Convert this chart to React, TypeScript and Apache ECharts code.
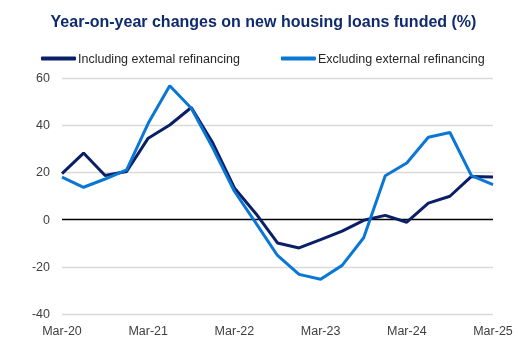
import React, { useEffect, useRef } from "react";
import * as echarts from "echarts";

const categories = [
  "Mar-20", "Jun-20", "Sep-20", "Dec-20",
  "Mar-21", "Jun-21", "Sep-21", "Dec-21",
  "Mar-22", "Jun-22", "Sep-22", "Dec-22",
  "Mar-23", "Jun-23", "Sep-23", "Dec-23",
  "Mar-24", "Jun-24", "Sep-24", "Dec-24",
  "Mar-25",
];

const includingExternal = [
  19.5, 28.2, 18.7, 20.4, 34.5, 40.1, 47.5, 32.4, 13.4, 2.5, -9.9,
  -12.0, -8.5, -4.9, -0.3, 1.8, -1.1, 7.0, 9.9, 18.3, 18.0,
];

const excludingExternal = [
  18.0, 13.7, 17.2, 21.1, 40.8, 56.7, 47.2, 30.3, 12.0, -1.5, -15.2,
  -23.2, -25.3, -19.4, -7.7, 18.6, 24.0, 34.9, 36.9, 18.6, 14.8,
];

const yTicks = { min: -40, max: 60, interval: 20 };

const FONT = "Arial, 'Liberation Sans', sans-serif";

export default function App() {
  const ref = useRef<HTMLDivElement>(null);
  useEffect(() => {
    if (!ref.current) return;
    const chart = echarts.init(ref.current, undefined, { renderer: "svg" });
    chart.setOption({
      animation: false,
      title: {
        text: "Year-on-year changes on new housing loans funded (%)",
        left: "center",
        top: 8,
        textStyle: {
          fontFamily: FONT,
          fontSize: 16,
          fontWeight: "bold",
          color: "#0f2b6e",
        },
      },
      legend: {
        top: 47,
        left: 36,
        itemWidth: 35,
        itemHeight: 4,
        itemGap: 41,
        icon: "roundRect",
        textStyle: { fontFamily: FONT, fontSize: 12.5, color: "#262626", padding: [0, 0, 0, -3] },
        data: ["Including extemal refinancing", "Excluding external refinancing"],
      },
      grid: { left: 62, right: 34, top: 78, bottom: 45, containLabel: false },
      xAxis: {
        type: "category",
        data: categories,
        boundaryGap: false,
        axisLine: { show: false },
        axisTick: { show: false },
        axisLabel: {
          interval: 3,
          fontFamily: FONT,
          fontSize: 12.5,
          color: "#404040",
          margin: 10,
        },
        splitLine: { show: false },
      },
      yAxis: {
        type: "value",
        min: yTicks.min,
        max: yTicks.max,
        interval: yTicks.interval,
        axisLine: { show: false },
        axisTick: { show: false },
        axisLabel: { fontFamily: FONT, fontSize: 12.5, color: "#404040", margin: 12 },
        splitLine: {
          lineStyle: {
            color: ["#d9d9d9", "#d9d9d9", "#000000", "#d9d9d9", "#d9d9d9", "#d9d9d9"],
            width: 1.3,
          },
        },
      },
      series: [
        {
          name: "Including extemal refinancing",
          type: "line",
          data: includingExternal,
          symbol: "none",
          lineStyle: { width: 3, color: "#0a1f66" },
          itemStyle: { color: "#0a1f66" },
        },
        {
          name: "Excluding external refinancing",
          type: "line",
          data: excludingExternal,
          symbol: "none",
          lineStyle: { width: 3, color: "#0b77d4" },
          itemStyle: { color: "#0b77d4" },
        },
      ],
    });
    return () => chart.dispose();
  }, []);
  return (
    <div
      ref={ref}
      style={{ position: "fixed", left: 0, top: 0, width: 527, height: 359 }}
    />
  );
}
